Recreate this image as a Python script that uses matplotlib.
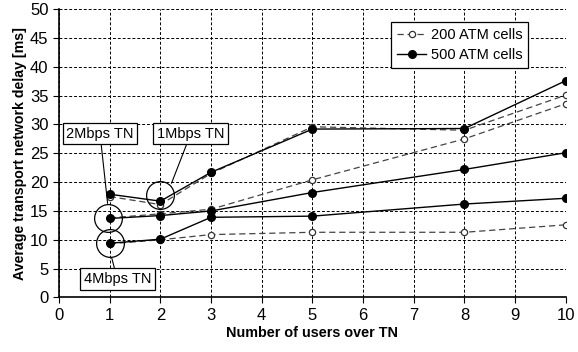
import numpy as np
import matplotlib.pyplot as plt

plt.rcParams['font.family'] = ['Liberation Sans', 'DejaVu Sans']

# Número de usuarios sobre la red de transporte
usuarios = [1, 2, 3, 5, 8, 10]

# Retardos (ms) para cada capacidad de TN
tn1_200 = [17.5, 16.1, 21.5, 29.6, 29.0, 35.1]
tn1_500 = [17.9, 16.7, 21.7, 29.2, 29.3, 37.6]
tn2_200 = [13.8, 14.5, 15.3, 20.4, 27.5, 33.6]
tn2_500 = [13.7, 14.2, 15.0, 18.2, 22.2, 25.1]
tn4_200 = [9.3, 10.0, 10.9, 11.3, 11.3, 12.6]
tn4_500 = [9.4, 10.1, 13.9, 14.1, 16.2, 17.2]

etiquetas_tn = ['2Mbps TN', '1Mbps TN', '4Mbps TN']

fig = plt.figure(figsize=(5.78, 3.52), dpi=100)
ax = fig.add_axes([0.102, 0.155, 0.877, 0.819])

estilo_200 = dict(color='#444444', linestyle=(0, (5, 3)), linewidth=0.9,
                  marker='o', markersize=4.5, markerfacecolor='white',
                  markeredgecolor='#333333', markeredgewidth=0.9)
estilo_500 = dict(color='black', linestyle='-', linewidth=1.0,
                  marker='o', markersize=5.5, markerfacecolor='black',
                  markeredgecolor='black')

ax.plot(usuarios, tn1_200, label='200 ATM cells', **estilo_200)
ax.plot(usuarios, tn2_200, **estilo_200)
ax.plot(usuarios, tn4_200, **estilo_200)
ax.plot(usuarios, tn1_500, label='500 ATM cells', **estilo_500)
ax.plot(usuarios, tn2_500, **estilo_500)
ax.plot(usuarios, tn4_500, **estilo_500)

# Círculos que señalan cada grupo
circulos = [(0.97, 13.7), (1.0, 9.4), (2.0, 17.7)]
for cx, cy in circulos:
    ax.plot(cx, cy, marker='o', markersize=20, markerfacecolor='none',
            markeredgecolor='black', markeredgewidth=0.9, linestyle='none')

caja = dict(boxstyle='square,pad=0.25', facecolor='white', edgecolor='black', linewidth=0.9)
ax.annotate(etiquetas_tn[0], xy=(0.96, 16.3), xytext=(0.81, 28.4),
            ha='center', va='center', fontsize=10.5, bbox=caja,
            arrowprops=dict(arrowstyle='-', color='black', linewidth=0.8,
                            shrinkA=0, shrinkB=0))
ax.annotate(etiquetas_tn[1], xy=(2.22, 19.8), xytext=(2.6, 28.4),
            ha='center', va='center', fontsize=10.5, bbox=caja,
            arrowprops=dict(arrowstyle='-', color='black', linewidth=0.8,
                            shrinkA=0, shrinkB=0))
ax.annotate(etiquetas_tn[2], xy=(1.04, 6.9), xytext=(1.15, 3.2),
            ha='center', va='center', fontsize=10.5, bbox=caja,
            arrowprops=dict(arrowstyle='-', color='black', linewidth=0.8,
                            shrinkA=0, shrinkB=0))

ax.set_xlim(0, 10)
ax.set_ylim(0, 50)
ax.set_xticks(np.arange(0, 11, 1))
ax.set_yticks(np.arange(0, 51, 5))
ax.tick_params(labelsize=12, length=4, width=0.8, direction='out')
ax.grid(True, color='black', linestyle=(0, (3, 2)), linewidth=0.7)
ax.set_axisbelow(True)

for lado in ['top', 'right']:
    ax.spines[lado].set_visible(False)
ax.spines['left'].set_linewidth(1.2)
ax.spines['bottom'].set_linewidth(1.2)

ax.set_xlabel('Number of users over TN', fontsize=10.4, fontweight='bold', labelpad=2)
ax.set_ylabel('Average transport network delay [ms]', fontsize=10.2, fontweight='bold', labelpad=2)

leg = ax.legend(loc='upper right', bbox_to_anchor=(0.94, 0.98), fontsize=10.5,
                frameon=True, fancybox=False, framealpha=1, edgecolor='black',
                handlelength=2.0, borderpad=0.4, labelspacing=0.4, handletextpad=0.3)
leg.get_frame().set_linewidth(0.9)

fig.savefig('out.png', dpi=100)
